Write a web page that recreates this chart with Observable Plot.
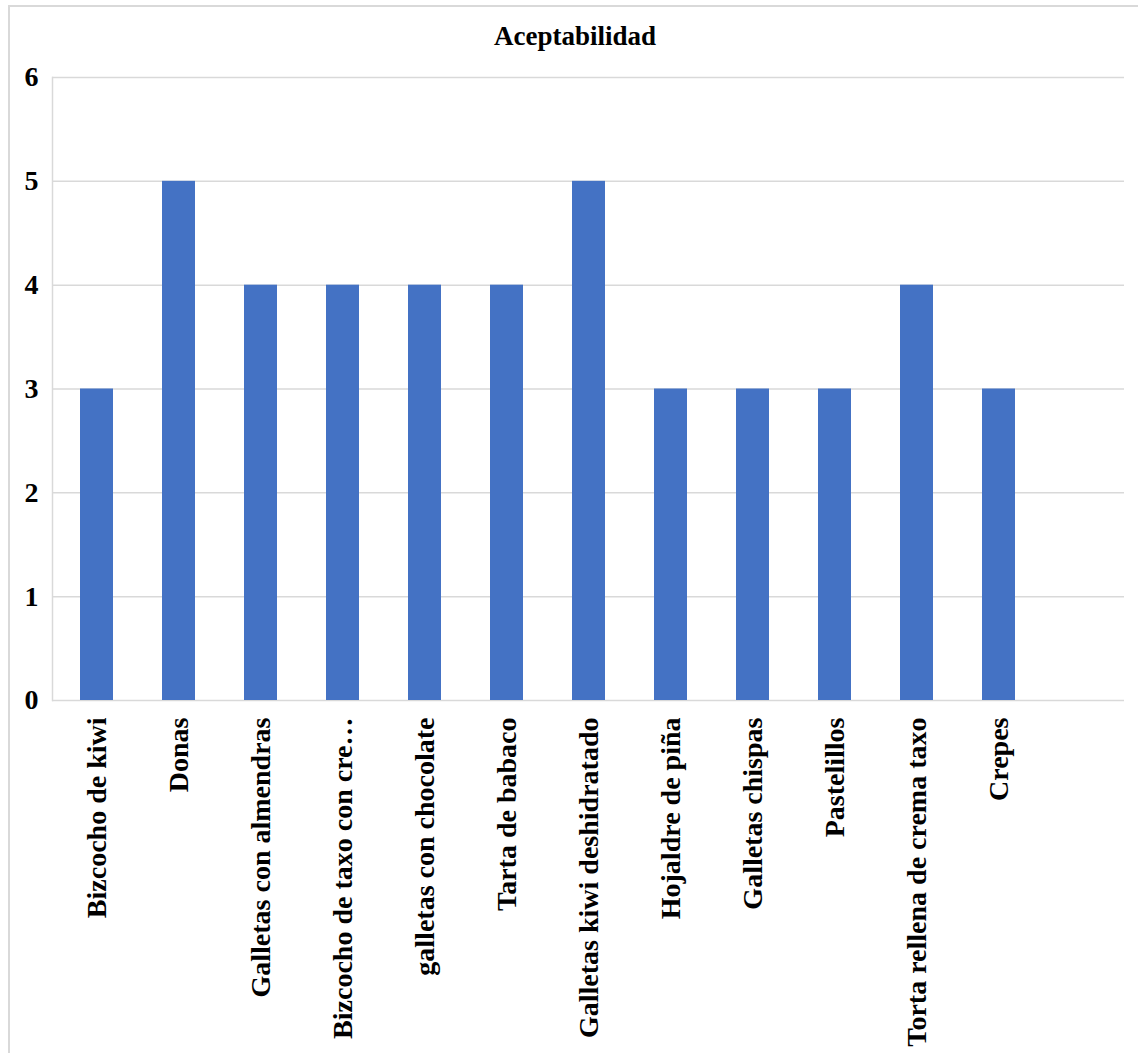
<!DOCTYPE html>
<html>
<head>
<meta charset="utf-8">
<script src="https://cdn.jsdelivr.net/npm/d3@7"></script>
<script src="https://cdn.jsdelivr.net/npm/@observablehq/plot@0.6"></script>
<style>
  html, body { margin: 0; padding: 0; background: #fff; }
  #box {
    position: absolute; left: 8px; top: 5px;
    width: 1130px; height: 1046px;
    border: 2px solid #d9d9d9; border-right: none; border-bottom: none;
    font-family: "Liberation Serif", "Times New Roman", serif;
  }
  #title {
    height: 36px; line-height: 58px; text-align: center;
    font-size: 27px; font-weight: bold; color: #000;
    position: relative; z-index: 1;
  }
  svg { display: block; }
</style>
</head>
<body>
<div id="box"><div id="title">Aceptabilidad</div><div id="chart"></div></div>
<script>
const categories = [
  "Bizcocho de kiwi", "Donas", "Galletas con almendras", "Bizcocho de taxo con cre…",
  "galletas con chocolate", "Tarta de babaco", "Galletas kiwi deshidratado",
  "Hojaldre de piña", "Galletas chispas", "Pastelillos",
  "Torta rellena de crema taxo", "Crepes"
];
const values = [3, 5, 4, 4, 4, 4, 5, 3, 3, 3, 4, 3];
const emptySlot = [""];
const yTicks = [0, 1, 2, 3, 4, 5, 6];

const data = categories.map((c, i) => ({category: c, value: values[i]}));

const chart = Plot.plot({
  width: 1130,
  height: 1010,
  marginTop: 34,
  marginBottom: 353,
  marginLeft: 42,
  marginRight: 16,
  style: {fontFamily: "'Liberation Serif', 'Times New Roman', serif", background: "transparent", color: "#000"},
  x: {domain: [...categories, ...emptySlot], paddingInner: 0.6, paddingOuter: 0.3, label: null},
  y: {domain: [0, 6], label: null},
  marks: [
    Plot.ruleY(yTicks, {stroke: "#d9d9d9", strokeWidth: 1.5, strokeOpacity: 1}),
    Plot.frame({anchor: "left", stroke: "#d9d9d9", strokeWidth: 1.5}),
    Plot.barY(data, {x: "category", y: "value", fill: "#4472C4"}),
    Plot.axisY({ticks: yTicks, tickFormat: "d", tickSize: 0, tickPadding: 14, fontSize: 28, fontWeight: "bold", label: null}),
    Plot.axisX({tickSize: 0, tickPadding: 17, tickRotate: -90, fontSize: 28, fontWeight: "bold", label: null})
  ]
});
document.getElementById("chart").appendChild(chart);
</script>
</body>
</html>
